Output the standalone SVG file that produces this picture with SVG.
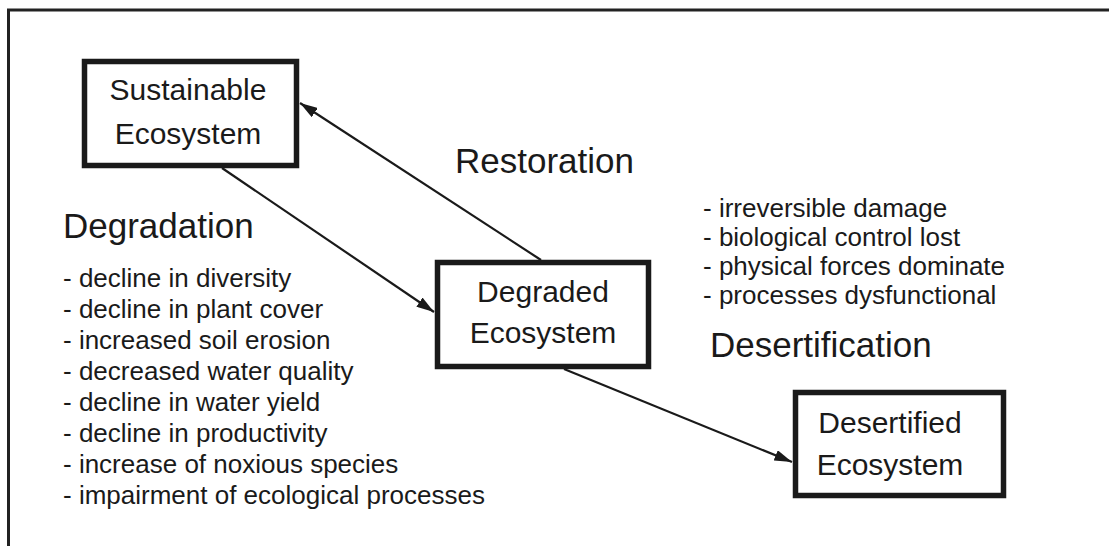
<svg xmlns="http://www.w3.org/2000/svg" width="1109" height="546" viewBox="0 0 1109 546">
<style>
text{font-family:"Liberation Sans",Arial,sans-serif;fill:#1a1a1a}
.node{font-size:30px;text-anchor:middle}
.head{font-size:35px}
.item{font-size:26px}
.box{fill:#fff;stroke:#1a1a1a;stroke-width:5.5}
.edge{stroke:#1a1a1a;stroke-width:2.2;fill:none;marker-end:url(#arr)}
</style>
<defs>
<marker id="arr" viewBox="0 0 16 10" refX="16" refY="5" markerWidth="8" markerHeight="5" markerUnits="strokeWidth" orient="auto">
<path d="M0,0 L16,5 L0,10 z" fill="#1a1a1a"/>
</marker>
</defs>
<rect width="1109" height="546" fill="#fff"/>
<path d="M8.5,546 V10 H1109" fill="none" stroke="#222" stroke-width="3"/>
<g id="connectors">
<line class="edge" x1="222" y1="168" x2="434" y2="312"/>
<line class="edge" x1="541" y1="260" x2="300" y2="103"/>
<line class="edge" x1="564" y1="369" x2="792" y2="462"/>
</g>
<g id="sustainable">
<rect class="box" x="84.5" y="61.5" width="212" height="104"/>
<text class="node" x="188" y="100">Sustainable</text>
<text class="node" x="188" y="144">Ecosystem</text>
</g>
<g id="degraded">
<rect class="box" x="437.5" y="262.5" width="211" height="104"/>
<text class="node" x="543" y="302">Degraded</text>
<text class="node" x="543" y="343">Ecosystem</text>
</g>
<g id="desertified">
<rect class="box" x="795.5" y="392.5" width="208" height="103"/>
<text class="node" x="890" y="433">Desertified</text>
<text class="node" x="890" y="475">Ecosystem</text>
</g>
<g id="labels">
<text class="head" x="455" y="173">Restoration</text>
<text class="head" x="63" y="238">Degradation</text>
<text class="head" x="710" y="357">Desertification</text>
</g>
<g id="degradation-list">
<text class="item" x="63" y="287">- decline in diversity</text>
<text class="item" x="63" y="318">- decline in plant cover</text>
<text class="item" x="63" y="349">- increased soil erosion</text>
<text class="item" x="63" y="380">- decreased water quality</text>
<text class="item" x="63" y="411">- decline in water yield</text>
<text class="item" x="63" y="442">- decline in productivity</text>
<text class="item" x="63" y="473">- increase of noxious species</text>
<text class="item" x="63" y="504">- impairment of ecological processes</text>
</g>
<g id="desertification-list">
<text class="item" x="703" y="217">- irreversible damage</text>
<text class="item" x="703" y="246">- biological control lost</text>
<text class="item" x="703" y="275">- physical forces dominate</text>
<text class="item" x="703" y="304">- processes dysfunctional</text>
</g>
</svg>
